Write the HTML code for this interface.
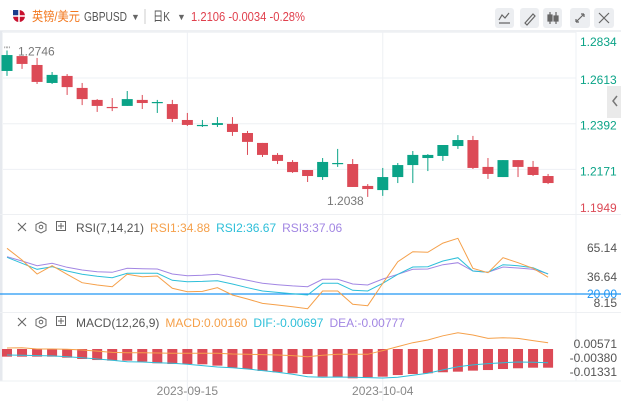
<!DOCTYPE html>
<html><head><meta charset="utf-8"><style>
body{margin:0;background:#fff;font-family:"Liberation Sans","Noto Sans CJK SC",sans-serif;}
svg{display:block}
text{font-family:"Liberation Sans","Noto Sans CJK SC",sans-serif;}
</style></head><body>
<svg id="c" width="621" height="401" viewBox="0 0 621 401">
<rect x="0" y="0" width="621" height="401" fill="#fff"/>
<g>
<g><circle cx="19" cy="16" r="6" fill="#c8102e"/><rect x="13" y="10" width="6" height="6" fill="#1a3c8c"/><path d="M13 16h12M19 10v12" stroke="#fff" stroke-width="1.5"/></g>
<text x="32" y="21" font-size="13" fill="#f2781f" textLength="48" lengthAdjust="spacingAndGlyphs">英镑/美元</text>
<text x="84" y="21" font-size="13" fill="#555" textLength="43" lengthAdjust="spacingAndGlyphs">GBPUSD</text>
<text x="131" y="20" font-size="9" fill="#666">▼</text>
<line x1="145" y1="9" x2="145" y2="24" stroke="#ccc"/>
<text x="153" y="21" font-size="13" fill="#555" textLength="17" lengthAdjust="spacingAndGlyphs">日K</text>
<text x="177" y="20" font-size="9" fill="#666">▼</text>
<text x="191" y="21" font-size="13" fill="#e0404d" textLength="114" lengthAdjust="spacingAndGlyphs">1.2106 -0.0034 -0.28%</text>
<g fill="#eceef1">
<rect x="495" y="8" width="19" height="20" rx="3"/>
<rect x="520" y="8" width="19" height="20" rx="3"/>
<rect x="543" y="8" width="19" height="20" rx="3"/>
<rect x="570" y="8" width="20" height="20" rx="3"/>
<rect x="594" y="8" width="20" height="20" rx="3"/>
</g>
<g stroke="#666" fill="none" stroke-width="1.2">
<path d="M499 20l3-5 3 3 4-5M499 23h11"/>
<path d="M525 23l8-9 2 2-8 9z"/>
<path d="M550 12v12M556 12v12"/><rect x="548" y="15" width="4" height="6" fill="#666"/><rect x="554" y="16" width="4" height="5" fill="#666"/>
<path d="M576 22l8-8M576 22v-3M576 22h3M584 14h-3M584 14v3"/>
<path d="M599 13l10 10M609 13l-10 10"/>
</g>
</g>
<line x1="0" y1="31" x2="621" y2="31" stroke="#eef0f3" stroke-width="2"/>
<line x1="1" y1="31" x2="1" y2="381" stroke="#e6e9ee" stroke-width="3"/>
<g id="grid" stroke="#eef0f4" stroke-width="1"></g>
<g id="main"></g>
<g id="rsi"></g>
<g id="macd"></g>
<g id="axes"></g>
<g><rect x="607" y="86" width="14" height="32" fill="#eaeaea"/><path d="M617 96l-4 5 4 5" stroke="#777" fill="none" stroke-width="1.5"/></g>
</svg>
<script>
const opens = [1.2647,1.2719,1.2676,1.2589,1.2623,1.2565,1.2507,1.2473,1.2478,1.2507,1.2492,1.2487,1.2410,1.2381,1.2386,1.2391,1.2347,1.2299,1.2241,1.2207,1.2168,1.2134,1.2197,1.2197,1.2091,1.2071,1.2134,1.2192,1.2226,1.2236,1.2284,1.2313,1.2183,1.2134,1.2216,1.2183,1.2139];
const highs = [1.2746,1.2719,1.2710,1.2642,1.2632,1.2589,1.2511,1.2516,1.2550,1.2531,1.2507,1.2507,1.2444,1.2410,1.2424,1.2424,1.2357,1.2299,1.2250,1.2216,1.2168,1.2226,1.2270,1.2221,1.2100,1.2178,1.2202,1.2260,1.2245,1.2289,1.2337,1.2333,1.2226,1.2216,1.2216,1.2212,1.2149];
const lows = [1.2623,1.2657,1.2584,1.2584,1.2531,1.2482,1.2449,1.2453,1.2478,1.2463,1.2444,1.2400,1.2381,1.2376,1.2376,1.2333,1.2241,1.2231,1.2197,1.2154,1.2110,1.2120,1.2183,1.2086,1.2038,1.2043,1.2105,1.2105,1.2163,1.2212,1.2270,1.2173,1.2125,1.2134,1.2134,1.2139,1.2100];
const closes = [1.2724,1.2681,1.2594,1.2628,1.2569,1.2511,1.2478,1.2468,1.2511,1.2492,1.2497,1.2415,1.2386,1.2386,1.2395,1.2352,1.2304,1.2241,1.2212,1.2158,1.2139,1.2207,1.2202,1.2086,1.2076,1.2134,1.2192,1.2241,1.2241,1.2289,1.2313,1.2178,1.2149,1.2216,1.2183,1.2144,1.2105];
const priceTicks = ["1.2834","1.2613","1.2392","1.2171","1.1949"];
const rsi1 = [64.8,53.4,39.6,47.8,39.3,31.1,28.8,27.2,39.3,37.0,37.7,25.6,22.3,22.6,26.2,19.0,15.1,10.8,9.2,7.5,5.6,22.9,22.9,9.9,8.5,30.5,51.7,61.5,60.9,70.0,74.7,45.2,40.9,55.6,50.7,45.2,36.5];
const rsi2 = [56.0,50.1,44.2,46.8,42.6,39.3,37.4,36.0,40.3,40.3,40.3,33.4,32.1,32.4,33.1,29.8,26.2,22.9,21.6,20.3,19.0,30.5,30.5,23.6,22.9,30.5,39.3,46.5,46.8,52.4,55.6,42.6,41.3,48.8,47.8,45.8,39.5];
const rsi3 = [56.6,52.4,47.8,50.1,46.2,43.6,41.9,41.3,45.2,44.8,44.5,39.6,38.0,38.4,39.3,36.4,33.4,30.5,29.1,27.9,27.2,34.4,34.4,29.8,28.8,34.7,39.3,44.2,44.5,48.8,50.7,42.6,41.3,46.5,45.5,44.2,39.8];
const rsiTicks = ["65.14","36.64","20.00","8.15"];
const macdHist = [-0.0052,-0.0052,-0.0052,-0.0052,-0.0059,-0.0068,-0.0075,-0.0079,-0.0079,-0.0086,-0.0097,-0.0102,-0.0102,-0.0104,-0.0113,-0.0127,-0.0136,-0.0149,-0.0158,-0.0165,-0.0170,-0.0188,-0.0192,-0.0199,-0.0192,-0.0188,-0.0177,-0.0170,-0.0165,-0.0158,-0.0154,-0.0147,-0.0143,-0.0136,-0.0131,-0.0127,-0.0127];
const macdDif = [0.0007,0.0009,0.0000,0.0000,-0.0002,-0.0007,-0.0014,-0.0023,-0.0025,-0.0025,-0.0027,-0.0029,-0.0029,-0.0029,-0.0029,-0.0034,-0.0036,-0.0038,-0.0041,-0.0045,-0.0052,-0.0043,-0.0036,-0.0036,-0.0036,-0.0011,0.0016,0.0043,0.0061,0.0090,0.0111,0.0095,0.0072,0.0077,0.0072,0.0057,0.0043];
const macdDea = [-0.0041,-0.0043,-0.0045,-0.0047,-0.0052,-0.0059,-0.0068,-0.0077,-0.0086,-0.0088,-0.0093,-0.0097,-0.0104,-0.0113,-0.0122,-0.0127,-0.0136,-0.0147,-0.0158,-0.0172,-0.0188,-0.0192,-0.0190,-0.0192,-0.0194,-0.0197,-0.0192,-0.0179,-0.0165,-0.0142,-0.0120,-0.0108,-0.0099,-0.0093,-0.0088,-0.0090,-0.0093];
const macdTicks = ["0.00571","-0.00380","-0.01331"];
const dateLabels = ["2023-09-15","2023-10-04"];
const dateIndex = [12,25];

const NS="http://www.w3.org/2000/svg";
const xS = i => 7 + i*15.03;
const yP = p => 78 + (1.2613 - p)/0.0221*45.7;
const yR = v => 294 - (v-20)*1.019;
const yM = v => 349 - v*1472;
function mk(tag, attrs, parent){const e=document.createElementNS(NS,tag);for(const k in attrs)e.setAttribute(k,attrs[k]);parent.appendChild(e);return e;}
const G=document.getElementById('grid'),M=document.getElementById('main'),R=document.getElementById('rsi'),MC=document.getElementById('macd'),A=document.getElementById('axes');
const GREEN="#0aa387",RED="#dc4a56";

[1.2834,1.2613,1.2392,1.2171].forEach(p=>{const l=mk('line',{x1:3,x2:576,y1:yP(p),y2:yP(p)},G);

});
dateIndex.forEach(i=>{const l=mk('line',{x1:xS(i),x2:xS(i),y1:32,y2:401},G);

});
mk('line',{x1:576,x2:576,y1:32,y2:381,stroke:'#eef0f4'},G);
mk('line',{x1:0,x2:621,y1:214.5,y2:214.5,stroke:'#eef0f3'},G);
mk('line',{x1:0,x2:621,y1:312.5,y2:312.5,stroke:'#eef0f3'},G);
mk('line',{x1:0,x2:621,y1:381,y2:381,stroke:'#eef0f3'},G);

for(let i=0;i<opens.length;i++){
  const up=closes[i]>=opens[i], col=up?GREEN:RED, x=xS(i);
  const g=mk('g',{},M);
  
  
  mk('line',{x1:x,x2:x,y1:yP(highs[i]),y2:yP(lows[i]),stroke:col,'stroke-width':1},g);
  const t=yP(Math.max(opens[i],closes[i])), b=yP(Math.min(opens[i],closes[i]));
  mk('rect',{x:x-5.5,y:t,width:11,height:Math.max(1.2,b-t),fill:col},g);
}
let hi=0,lo=0;highs.forEach((h,i)=>{if(h>highs[hi])hi=i;});lows.forEach((l,i)=>{if(l<lows[lo])lo=i;});
const th=mk('text',{x:xS(hi)+11,y:yP(highs[hi])+5,'font-size':12,fill:'#777'},M);th.textContent=highs[hi].toFixed(4);


mk('text',{x:xS(hi)-3,y:yP(highs[hi])+2,'font-size':8,fill:'#777'},M).textContent="''''";
const tl=mk('text',{x:xS(lo)-4,y:yP(lows[lo])+8,'font-size':12,fill:'#777','text-anchor':'end'},M);tl.textContent=lows[lo].toFixed(4);



const pCols=[GREEN,GREEN,GREEN,GREEN,RED];
priceTicks.forEach((t,i)=>{const y=i==0?46:(i==4?212:yP(+t)+6);
const e=mk('text',{x:580,y:y,'font-size':12,fill:pCols[i]},A);e.textContent=t;

});

function header(y,name,items){
  const g=mk('g',{},A);
  
  
  mk('path',{d:`M18 ${y-9}l8 8M26 ${y-9}l-8 8`,stroke:'#666',fill:'none','stroke-width':1.1},g);
  mk('path',{d:`M41 ${y-10}l5 2.5v6l-5 2.5-5-2.5v-6z`,stroke:'#666',fill:'none'},g);
  mk('circle',{cx:41,cy:y-5,r:1.8,stroke:'#666',fill:'none'},g);
  mk('rect',{x:56.5,y:y-10.5,width:9,height:9,stroke:'#666',fill:'none'},g);
  mk('path',{d:`M61 ${y-9}v6M58 ${y-6}h6`,stroke:'#666'},g);
  let x=76;
  items.forEach(([txt,col])=>{const e=mk('text',{x:x,y:y,'font-size':12,fill:col},g);e.textContent=txt;x+=e.getComputedTextLength()+6;});
}
header(232,'rsi',[["RSI(7,14,21)","#555"],["RSI1:34.88","#f5a04a"],["RSI2:36.67","#2ebfd9"],["RSI3:37.06","#a286e3"]]);
header(327,'macd',[["MACD(12,26,9)","#555"],["MACD:0.00160","#f5a04a"],["DIF:-0.00697","#2ebfd9"],["DEA:-0.00777","#a286e3"]]);

function line(arr,ys,col,parent,name){
  const d=arr.map((v,i)=>(i?'L':'M')+xS(i).toFixed(1)+' '+ys(v).toFixed(1)).join(' ');
  const p=mk('path',{d:d,stroke:col,fill:'none','stroke-width':1},parent);
  
  
}
const l20=mk('line',{x1:0,x2:621,y1:yR(20),y2:yR(20),stroke:'#2196f3','stroke-width':1.2},R);


line(rsi3,yR,'#a286e3',R,'rsi3-line');
line(rsi2,yR,'#2ebfd9',R,'rsi2-line');
line(rsi1,yR,'#f5a04a',R,'rsi1-line');
rsiTicks.forEach((t,i)=>{const ys=[252,281,298,307][i];
const e=mk('text',{x:617,y:ys,'font-size':12,fill:i==2?'#2196f3':'#555','text-anchor':'end'},A);e.textContent=t;

});

macdHist.forEach((v,i)=>{const y0=yM(0),y1=yM(v);
const r=mk('rect',{x:xS(i)-5,y:Math.min(y0,y1),width:10,height:Math.abs(y1-y0),fill:RED},MC);

});
line(macdDif,yM,'#f5a04a',MC,'macd-dif-line');
line(macdDea,yM,'#2ebfd9',MC,'macd-dea-line');
macdTicks.forEach((t,i)=>{const e=mk('text',{x:617,y:[348,362,376][i],'font-size':12,fill:'#555','text-anchor':'end'},A);e.textContent=t;

});

dateLabels.forEach((t,i)=>{const e=mk('text',{x:xS(dateIndex[i]),y:395,'font-size':12,fill:'#888','text-anchor':'middle'},A);e.textContent=t;

});
</script>
</body></html>
